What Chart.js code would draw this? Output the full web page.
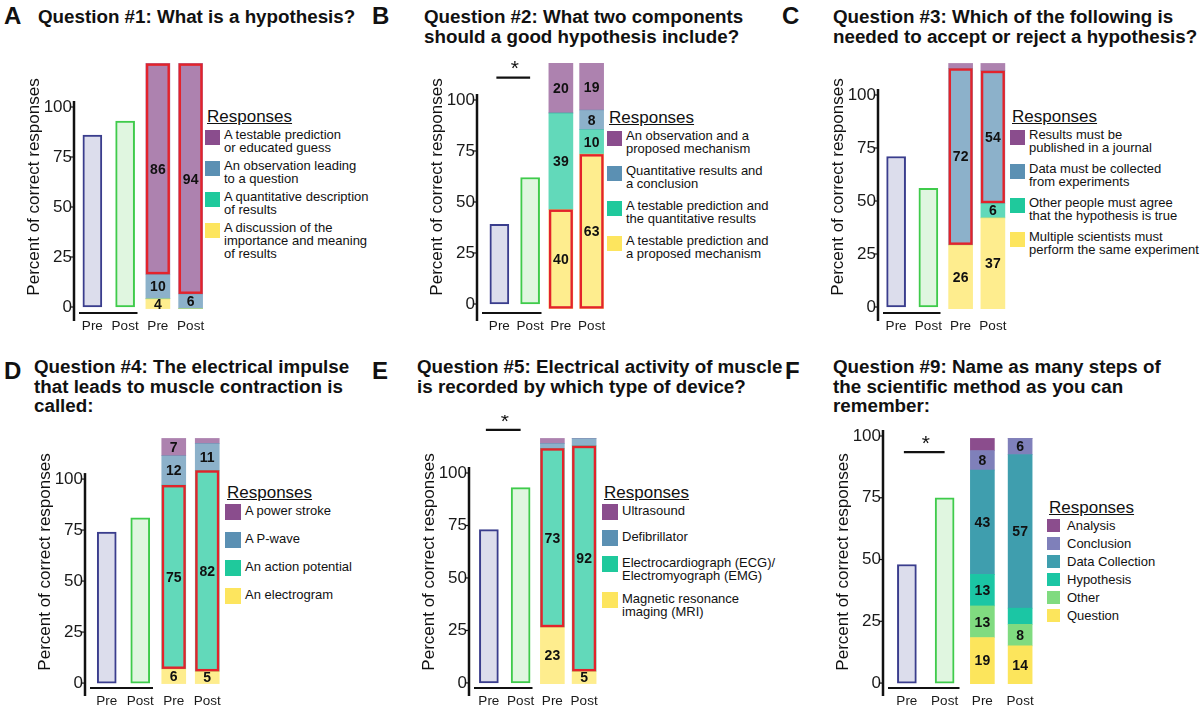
<!DOCTYPE html>
<html>
<head>
<meta charset="utf-8">
<script src="https://cdn.jsdelivr.net/npm/chart.js@4.4.1/dist/chart.umd.min.js"></script>
<style>
  html, body { margin: 0; padding: 0; background: #fff; }
  body { width: 1200px; height: 713px; position: relative; overflow: hidden;
         font-family: 'Liberation Sans', Arial, Helvetica, sans-serif; color: #111; }
  .letter { position: absolute; font-weight: bold; font-size: 24px; line-height: 24px; }
  .title { position: absolute; font-weight: bold; font-size: 18.8px; line-height: 19.5px; white-space: nowrap; }
  canvas { position: absolute; }
  .legend { position: absolute; font-size: 13px; line-height: 13px; }
  .legend .head { font-size: 17px; line-height: 20px; text-decoration: underline; margin-left: 2px; margin-bottom: 1px; }
  .legend .item { display: flex; align-items: flex-start; }
  .legend .sw { flex: none; }
  .legend .txt { white-space: pre; }
</style>
</head>
<body>
<script>
// ---- data ----
const groups = ['Pre', 'Post', 'Pre', 'Post'];
const yTicks = [0, 25, 50, 75, 100];

// legend order (top to bottom); stacked bars are drawn bottom-up in reverse
const q1Responses = ['A testable prediction\nor educated guess', 'An observation leading\nto a question',
  'A quantitative description\nof results', 'A discussion of the\nimportance and meaning\nof results'];
const q1Correct = [86, 93];
const q1Pre = [86, 10, 0, 4];
const q1Post = [94, 6, 0, 0];

const q2Responses = ['An observation and a\nproposed mechanism', 'Quantitative results and\na conclusion',
  'A testable prediction and\nthe quantitative results', 'A testable prediction and\na proposed mechanism'];
const q2Correct = [39, 62];
const q2Pre = [20, 0, 39, 40];
const q2Post = [19, 8, 10, 63];

const q3Responses = ['Results must be\npublished in a journal', 'Data must be collected\nfrom experiments',
  'Other people must agree\nthat the hypothesis is true', 'Multiple scientists must\nperform the same experiment'];
const q3Correct = [71, 56];
const q3Pre = [2, 72, 0, 26];
const q3Post = [3, 54, 6, 37];

const q4Responses = ['A power stroke', 'A P-wave', 'An action potential', 'An electrogram'];
const q4Correct = [74, 81];
const q4Pre = [7, 12, 75, 6];
const q4Post = [2, 11, 82, 5];

const q5Responses = ['Ultrasound', 'Defibrillator', 'Electrocardiograph (ECG)/\nElectromyograph (EMG)',
  'Magnetic resonance\nimaging (MRI)'];
const q5Correct = [73, 93];
const q5Pre = [2, 2, 73, 23];
const q5Post = [0, 3, 92, 5];

const q9Responses = ['Analysis', 'Conclusion', 'Data Collection', 'Hypothesis', 'Other', 'Question'];
const q9Correct = [48, 75];
const q9Pre = [5, 8, 43, 13, 13, 19];
const q9Post = [0, 6, 57, 6, 8, 14];

// segments with no number printed on them (index into the response list) [pre, post]
const q3Unlabelled = [[0], [0]];
const q4Unlabelled = [[], [0]];
const q5Unlabelled = [[0, 1], [1]];
const q9Unlabelled = [[0], [3]];

// ---- style ----
const FONT = "'Liberation Sans', Arial, Helvetica, sans-serif";
const colors4 = ['#8A4D8D', '#5B90B3', '#1FC99C', '#FDE55E'];
const colors6 = ['#8B4D8D', '#7F80BA', '#3F9EAE', '#1BC6A4', '#80DB80', '#FCE55C'];

function fade(hex, a) {
  const n = parseInt(hex.slice(1), 16);
  return `rgba(${n >> 16},${(n >> 8) & 255},${n & 255},${a})`;
}

const panels = [
  { letter: 'A', x: 0, row: 0, letterX: 4, titleX: 38, title: 'Question #1: What is a hypothesis?',
    responses: q1Responses, correct: q1Correct, pre: q1Pre, post: q1Post, unlabelled: [[], []],
    right: 0, colors: colors4, faded: true, axisX: 74, plotLeft: 76, plotW: 131, yMin: -3.5, yMax: 123.5,
    star: null, legend: { x: 205, y: 107, gap: 5, sw: 15, tg: 4, mt: 2 } },
  { letter: 'B', x: 400, row: 0, letterX: 372, titleX: 424,
    title: 'Question #2: What two components<br>should a good hypothesis include?',
    responses: q2Responses, correct: q2Correct, pre: q2Pre, post: q2Post, unlabelled: [[], []],
    right: 3, colors: colors4, faded: true, axisX: 77, plotLeft: 84, plotW: 123, yMin: -4.9, yMax: 119.6,
    star: 111, legend: { x: 207, y: 108, gap: 9, sw: 15, tg: 4, mt: 2 } },
  { letter: 'C', x: 800, row: 0, letterX: 782, titleX: 833,
    title: 'Question #3: Which of the following is<br>needed to accept or reject a hypothesis?',
    responses: q3Responses, correct: q3Correct, pre: q3Pre, post: q3Post, unlabelled: q3Unlabelled,
    right: 1, colors: colors4, faded: true, axisX: 78, plotLeft: 80, plotW: 129, yMin: -3.3, yMax: 116.5,
    star: null, legend: { x: 210, y: 107, gap: 8, sw: 15, tg: 4, mt: 2 } },
  { letter: 'D', x: 0, row: 1, letterX: 4, titleX: 34,
    title: 'Question #4: The electrical impulse<br>that leads to muscle contraction is<br>called:',
    responses: q4Responses, correct: q4Correct, pre: q4Pre, post: q4Post, unlabelled: q4Unlabelled,
    right: 2, colors: colors4, faded: true, axisX: 85, plotLeft: 90, plotW: 134, yMin: -2.9, yMax: 121.6,
    star: null, legend: { x: 225, y: 483, gap: 12, sw: 16, tg: 4, mt: 0 } },
  { letter: 'E', x: 400, row: 1, letterX: 372, titleX: 417,
    title: 'Question #5: Electrical activity of muscle<br>is recorded by which type of device?',
    responses: q5Responses, correct: q5Correct, pre: q5Pre, post: q5Post, unlabelled: q5Unlabelled,
    right: 2, colors: colors4, faded: true, axisX: 69, plotLeft: 73, plotW: 127, yMin: -2.9, yMax: 118.1,
    star: 120.5, legend: { x: 202, y: 483, gap: 10, sw: 16, tg: 4, mt: 0 } },
  { letter: 'F', x: 800, row: 1, letterX: 785, titleX: 833,
    title: 'Question #9: Name as many steps of<br>the scientific method as you can<br>remember:',
    responses: q9Responses, correct: q9Correct, pre: q9Pre, post: q9Post, unlabelled: q9Unlabelled,
    right: -1, colors: colors6, faded: false, axisX: 83, plotLeft: 88, plotW: 151, yMin: -2.4, yMax: 100.4,
    star: 93.5, legend: { x: 247, y: 498, gap: 5, sw: 13, tg: 7, mt: 0 } }
];

function addText(cls, html, left, top) {
  const d = document.createElement('div');
  d.className = cls;
  d.innerHTML = html;
  d.style.left = left + 'px';
  d.style.top = top + 'px';
  document.body.appendChild(d);
}

function buildLegend(p) {
  const box = document.createElement('div');
  box.className = 'legend';
  box.style.left = (p.x + p.legend.x) + 'px';
  box.style.top = p.legend.y + 'px';
  const head = document.createElement('div');
  head.className = 'head';
  head.textContent = 'Responses';
  box.appendChild(head);
  p.responses.forEach((r, i) => {
    const item = document.createElement('div');
    item.className = 'item';
    if (i) item.style.marginTop = p.legend.gap + 'px';
    const sw = document.createElement('div');
    sw.className = 'sw';
    sw.style.width = sw.style.height = p.legend.sw + 'px';
    sw.style.marginTop = p.legend.mt + 'px';
    sw.style.marginRight = p.legend.tg + 'px';
    sw.style.background = p.colors[i];
    const t = document.createElement('div');
    t.className = 'txt';
    t.textContent = r;
    item.appendChild(sw);
    item.appendChild(t);
    box.appendChild(item);
  });
  document.body.appendChild(box);
}

function buildChart(p) {
  const rowTop = p.row ? 415 : 40;
  addText('letter', p.letter, p.letterX, p.row ? 359 : 4);
  addText('title', p.title, p.titleX, p.row ? 357 : 7);
  buildLegend(p);

  const canvas = document.createElement('canvas');
  canvas.width = p.plotLeft + p.plotW + 12;
  canvas.height = 305;
  canvas.style.left = p.x + 'px';
  canvas.style.top = rowTop + 'px';
  document.body.appendChild(canvas);

  const preTotal = p.pre.reduce((a, b) => a + b, 0);
  const postTotal = p.post.reduce((a, b) => a + b, 0);

  const datasets = [{
    label: 'Percent correct',
    data: [p.correct[0], p.correct[1], null, null],
    yAxisID: 'y',
    backgroundColor: ['#DCDDEC', '#E0F6E0', '#fff', '#fff'],
    borderColor: ['#3A3D8D', '#3FCB4B', '#fff', '#fff'],
    borderWidth: 2,
    borderSkipped: false,
    barThickness: 19
  }];
  for (let i = p.responses.length - 1; i >= 0; i--) {
    datasets.push({
      label: p.responses[i],
      // bars fill the full height: each share is plotted relative to its bar total
      data: [null, null, p.pre[i] / preTotal * 100, p.post[i] / postTotal * 100],
      printed: [null, null,
        p.unlabelled[0].includes(i) ? null : p.pre[i],
        p.unlabelled[1].includes(i) ? null : p.post[i]],
      resp: i,
      yAxisID: 'y2',
      backgroundColor: p.faded ? fade(p.colors[i], 0.7) : p.colors[i],
      borderWidth: 0,
      barThickness: 24
    });
  }

  const decor = {
    id: 'decor',
    afterDatasetsDraw(chart) {
      const ctx = chart.ctx, xs = chart.scales.x, ys = chart.scales.y, area = chart.chartArea;
      ctx.save();
      // red box around the correct answer
      chart.data.datasets.forEach((ds, di) => {
        if (ds.resp !== p.right) return;
        const meta = chart.getDatasetMeta(di);
        [2, 3].forEach(k => {
          const el = meta.data[k];
          if (!el || !ds.data[k]) return;
          const top = Math.min(el.y, el.base), h = Math.abs(el.base - el.y);
          ctx.strokeStyle = '#E3232B';
          ctx.lineWidth = 2.4;
          ctx.strokeRect(el.x - el.width / 2 + 1.2, top + 1.2, el.width - 2.4, h - 2.4);
        });
      });
      // numbers on the segments
      ctx.fillStyle = '#111';
      ctx.font = 'bold 14px ' + FONT;
      ctx.textAlign = 'center';
      ctx.textBaseline = 'middle';
      chart.data.datasets.forEach((ds, di) => {
        if (!ds.printed) return;
        const meta = chart.getDatasetMeta(di);
        [2, 3].forEach(k => {
          const v = ds.printed[k];
          if (v === null || v === 0) return;
          const el = meta.data[k];
          ctx.fillText(String(v), el.x, (el.y + el.base) / 2 + 1);
        });
      });
      // axis line and tick marks
      ctx.strokeStyle = '#111';
      ctx.lineWidth = 2.5;
      ctx.beginPath();
      ctx.moveTo(p.axisX, ys.getPixelForValue(100) - 6);
      ctx.lineTo(p.axisX, area.bottom + 7);
      ctx.stroke();
      ctx.lineWidth = 1.2;
      yTicks.forEach(v => {
        const py = ys.getPixelForValue(v);
        ctx.beginPath();
        ctx.moveTo(p.axisX - 4, py);
        ctx.lineTo(p.axisX, py);
        ctx.stroke();
      });
      // line under the first Pre/Post pair
      const c0 = xs.getPixelForValue(0), c1 = xs.getPixelForValue(1), c2 = xs.getPixelForValue(2);
      ctx.lineWidth = 2;
      ctx.beginPath();
      ctx.moveTo(p.axisX + 5, area.bottom - 1);
      ctx.lineTo((c1 + c2) / 2 - 4, area.bottom - 1);
      ctx.stroke();
      // significance marker
      if (p.star !== null) {
        const sy = ys.getPixelForValue(p.star);
        ctx.lineWidth = 2.2;
        ctx.beginPath();
        ctx.moveTo(c0 - 3, sy);
        ctx.lineTo(c1, sy);
        ctx.stroke();
        ctx.font = '21px ' + FONT;
        ctx.fillText('*', (c0 + c1) / 2, sy - 8);
      }
      ctx.restore();
    }
  };

  new Chart(canvas, {
    type: 'bar',
    data: { labels: groups, datasets },
    options: {
      responsive: false,
      devicePixelRatio: 1,
      animation: false,
      layout: { padding: { top: 20, left: 0, right: 12, bottom: 0 } },
      plugins: { legend: { display: false }, tooltip: { enabled: false } },
      scales: {
        x: {
          stacked: true,
          grid: { display: false, drawTicks: false },
          border: { display: false },
          ticks: { color: '#1a1a1a', font: { family: FONT, size: 13.5 }, padding: 4, autoSkip: false, maxRotation: 0 },
          afterFit(s) { s.height = 31; }
        },
        y: {
          stacked: true,
          position: 'left',
          min: p.yMin,
          max: p.yMax,
          afterBuildTicks(s) { s.ticks = yTicks.map(v => ({ value: v })); },
          afterFit(s) { s.width = p.plotLeft; },
          grid: { display: false, drawTicks: false },
          border: { display: false },
          ticks: { color: '#1a1a1a', font: { family: FONT, size: 17 }, padding: p.plotLeft - p.axisX + 2 },
          title: {
            display: true,
            text: 'Percent of correct responses',
            color: '#111',
            font: { family: FONT, size: 17 },
            padding: { top: p.axisX - 50, bottom: 0 }
          }
        },
        y2: { stacked: true, display: false, min: -2.2, max: 101.4 }
      }
    },
    plugins: [decor]
  });
}

panels.forEach(buildChart);
</script>
</body>
</html>
